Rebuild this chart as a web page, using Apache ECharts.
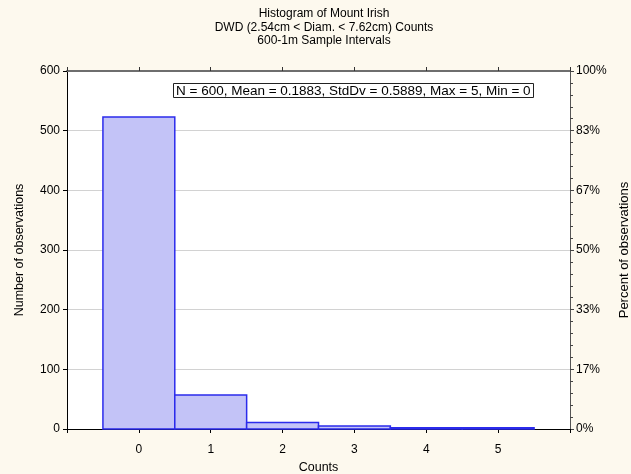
<!DOCTYPE html>
<html>
<head>
<meta charset="utf-8">
<script src="https://cdn.jsdelivr.net/npm/echarts@6/dist/echarts.min.js"></script>
<style>
  html, body { margin: 0; padding: 0; background: #fdf9ee; }
  #chart { width: 631px; height: 474px; }
</style>
</head>
<body>
<div id="chart"></div>
<script>
// Histogram bins (count values) and number of observations in each
const bins = [0, 1, 2, 3, 4, 5];
const observations = [523, 57, 11, 5, 2, 2];
const countTicks = ['0', '1', '2', '3', '4', '5'];
const totalN = 600;

const titleLines = [
  'Histogram of Mount Irish',
  'DWD (2.54cm < Diam. < 7.62cm) Counts',
  '600-1m Sample Intervals'
];
const statsText = 'N = 600, Mean = 0.1883, StdDv = 0.5889, Max = 5, Min = 0';

const FONT = 'Liberation Sans, Arial, sans-serif';
const chart = echarts.init(document.getElementById('chart'));

const barData = bins.map((b, i) => [b, observations[i]]);

chart.setOption({
  backgroundColor: '#fdf9ee',
  animation: false,
  textStyle: { fontFamily: FONT },
  title: [
    {
      text: titleLines.join('\n'),
      left: 319, top: 2, textAlign: 'center',
      textStyle: { fontSize: 12, fontWeight: 'normal', color: '#000', lineHeight: 13.5, fontFamily: FONT }
    },
    {
      text: statsText,
      left: 173, top: 83,
      padding: [1, 3, 0, 3],
      backgroundColor: '#fff',
      borderColor: '#222', borderWidth: 1,
      textStyle: { fontSize: 13.5, fontWeight: 'normal', color: '#000', fontFamily: FONT }
    }
  ],
  grid: {
    left: 67, right: 61, top: 71, bottom: 45,
    outerBoundsMode: 'none', containLabel: false,
    show: true, backgroundColor: '#fff', borderWidth: 0
  },
  xAxis: [
    {
      type: 'value', position: 'bottom', min: -1, max: 6, interval: 1,
      axisLine: { show: true, onZero: false, lineStyle: { color: '#000', width: 1 } },
      axisTick: { show: true, length: 4, lineStyle: { color: '#000' } },
      axisLabel: {
        margin: 15, fontSize: 12, color: '#000',
        formatter: v => (v >= 0 && v < countTicks.length) ? countTicks[v] : ''
      },
      splitLine: { show: false },
      name: 'Counts', nameLocation: 'middle', nameGap: 32,
      nameTextStyle: { fontSize: 12.5, color: '#000' }
    },
    {
      type: 'value', position: 'top', min: -1, max: 6, interval: 1,
      axisLine: { show: true, onZero: false, lineStyle: { color: '#6e6e6e', width: 2 } },
      axisTick: { show: true, length: 4, lineStyle: { color: '#333' } },
      axisLabel: { show: false },
      splitLine: { show: false }
    }
  ],
  yAxis: [
    {
      type: 'value', position: 'left', min: 0, max: totalN, interval: 100,
      axisLine: { show: true, onZero: false, lineStyle: { color: '#000', width: 1 } },
      axisTick: { show: true, length: 4, lineStyle: { color: '#000' } },
      axisLabel: { margin: 7, fontSize: 12, color: '#000' },
      splitLine: { show: true, lineStyle: { color: '#d2d2d2', width: 1 } },
      name: 'Number of observations', nameLocation: 'middle', nameGap: 41,
      nameTextStyle: { fontSize: 12.5, color: '#000' }
    },
    {
      type: 'value', position: 'right', min: 0, max: totalN, interval: 100,
      axisLine: { show: true, onZero: false, lineStyle: { color: '#555', width: 1 } },
      axisTick: { show: true, length: 4, lineStyle: { color: '#444' } },
      minorTick: { show: true, splitNumber: 5, length: 3, lineStyle: { color: '#444' } },
      axisLabel: {
        margin: 6, fontSize: 12, color: '#000',
        formatter: v => Math.round(v / totalN * 100) + '%'
      },
      splitLine: { show: false },
      name: 'Percent of observations', nameLocation: 'middle', nameGap: 47,
      nameTextStyle: { fontSize: 13, color: '#000' }
    }
  ],
  series: [
    {
      type: 'custom',
      xAxisIndex: 0, yAxisIndex: 0,
      data: barData,
      renderItem: function (params, api) {
        const x = api.value(0);
        const y = api.value(1);
        const p0 = api.coord([x - 0.5, 0]);
        const p1 = api.coord([x + 0.5, y]);
        return {
          type: 'rect',
          shape: { x: p0[0], y: p1[1], width: p1[0] - p0[0], height: p0[1] - p1[1] },
          style: { fill: '#c3c3f7', stroke: '#2b2bec', lineWidth: 1.5 }
        };
      }
    }
  ]
});
</script>
</body>
</html>
